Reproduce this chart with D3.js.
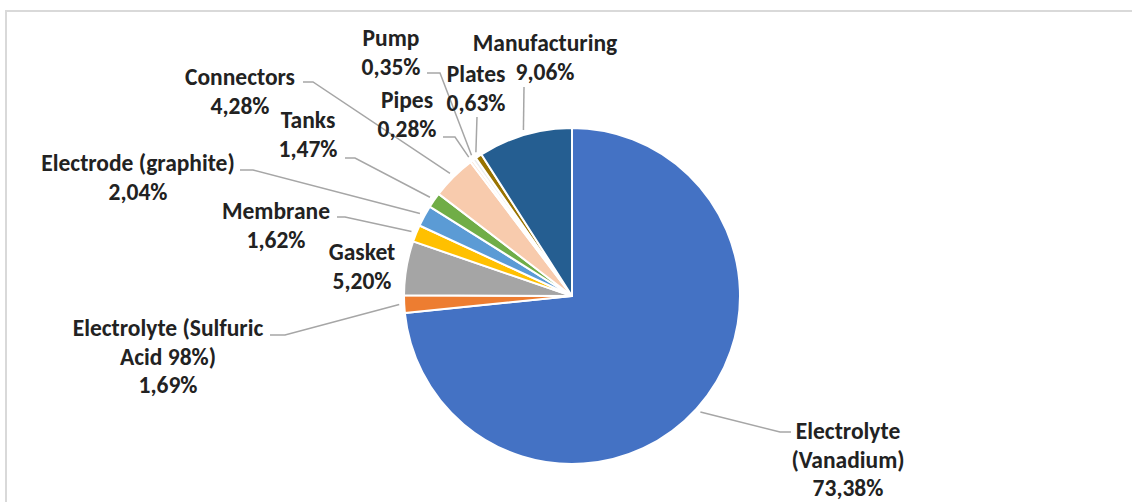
<!DOCTYPE html>
<html>
<head>
<meta charset="utf-8">
<script src="https://cdn.jsdelivr.net/npm/d3@7"></script>
<style>
  html, body { margin: 0; padding: 0; background: #fff; }
  svg { display: block; }
  .lbl { font-family: Calibri, Carlito, Lato, sans-serif; font-weight: 700; font-size: 23.5px; fill: #222; }
</style>
</head>
<body>
<svg id="chart" width="1132" height="502"></svg>
<script>
// Cost share of each component of a vanadium redox flow battery
const components = [
  "Electrolyte (Vanadium)",
  "Electrolyte (Sulfuric Acid 98%)",
  "Gasket",
  "Membrane",
  "Electrode (graphite)",
  "Tanks",
  "Connectors",
  "Pipes",
  "Pump",
  "Plates",
  "Manufacturing"
];
const shares = [73.38, 1.69, 5.20, 1.62, 2.04, 1.47, 4.28, 0.28, 0.35, 0.63, 9.06];
const labelLines = [
  ["Electrolyte", "(Vanadium)"],
  ["Electrolyte (Sulfuric", "Acid 98%)"],
  ["Gasket"],
  ["Membrane"],
  ["Electrode (graphite)"],
  ["Tanks"],
  ["Connectors"],
  ["Pipes"],
  ["Pump"],
  ["Plates"],
  ["Manufacturing"]
];
const colors = ["#4472C4", "#ED7D31", "#A5A5A5", "#FFC000", "#5B9BD5", "#70AD47",
                "#F8CBAD", "#FBE5D6", "#EDEDED", "#997300", "#255E91"];

// Label placement: centre x, first-line y, and the elbow of each leader line
const labelLayout = {
  "Electrolyte (Vanadium)":          { x: 848, y: 431, elbow: [[791, 432], [780, 432]] },
  "Electrolyte (Sulfuric Acid 98%)": { x: 168, y: 328, elbow: [[270, 335], [285, 335]] },
  "Gasket":                          { x: 362, y: 252, elbow: null },
  "Membrane":                        { x: 276, y: 211, elbow: [[337, 217], [345, 217]] },
  "Electrode (graphite)":            { x: 138, y: 163, elbow: [[240, 170], [253, 170]] },
  "Tanks":                           { x: 308, y: 120, elbow: [[345, 158], [355, 158]] },
  "Connectors":                      { x: 240, y: 77,  elbow: [[303, 82], [313, 82]] },
  "Pipes":                           { x: 407, y: 100, elbow: [[443, 137], [455, 137]] },
  "Pump":                            { x: 391, y: 38,  elbow: [[427, 73], [440, 73]] },
  "Plates":                          { x: 476, y: 74,  elbow: [[477, 117]] },
  "Manufacturing":                   { x: 545, y: 43,  elbow: [[524, 87]] }
};

const svg = d3.select("#chart");
const W = 1132, H = 502;

// chart-area frame
svg.append("rect")
  .attr("x", 6).attr("y", 11)
  .attr("width", W + 20).attr("height", H + 20)
  .attr("fill", "none")
  .attr("stroke", "#D9D9D9")
  .attr("stroke-width", 2);

const cx = 572, cy = 296, R = 168;
const data = components.map((name, i) => ({ name, value: shares[i], color: colors[i], lines: labelLines[i] }));

const pie = d3.pie().value(d => d.value).sort(null);
const arcs = pie(data);
const arc = d3.arc().innerRadius(0).outerRadius(R);
const edgeArc = d3.arc().innerRadius(R + 5).outerRadius(R + 5);

const g = svg.append("g").attr("transform", `translate(${cx},${cy})`);

g.selectAll("path.slice")
  .data(arcs)
  .join("path")
  .attr("class", "slice")
  .attr("d", arc)
  .attr("fill", d => d.data.color)
  .attr("stroke", "#fff")
  .attr("stroke-width", 2)
  .attr("stroke-linejoin", "round");

const fmt = v => d3.format(".2f")(v).replace(".", ",") + "%";

// leader lines
const line = d3.line();
arcs.forEach(a => {
  const lay = labelLayout[a.data.name];
  if (!lay.elbow) return;
  const [ex, ey] = edgeArc.centroid(a);
  const pts = lay.elbow.concat([[ex + cx, ey + cy]]);
  svg.append("path")
    .attr("d", line(pts))
    .attr("fill", "none")
    .attr("stroke", "#A6A6A6")
    .attr("stroke-width", 1.5);
});

// labels: category name lines followed by the percentage
const lineGap = 28.5;
arcs.forEach(a => {
  const lay = labelLayout[a.data.name];
  const rows = a.data.lines.concat([fmt(a.data.value)]);
  const t = svg.append("text")
    .attr("class", "lbl")
    .attr("text-anchor", "middle");
  rows.forEach((r, i) => {
    t.append("tspan")
      .attr("x", lay.x)
      .attr("y", lay.y + i * lineGap)
      .attr("dy", "0.35em")
      .text(r);
  });
});
</script>
</body>
</html>
